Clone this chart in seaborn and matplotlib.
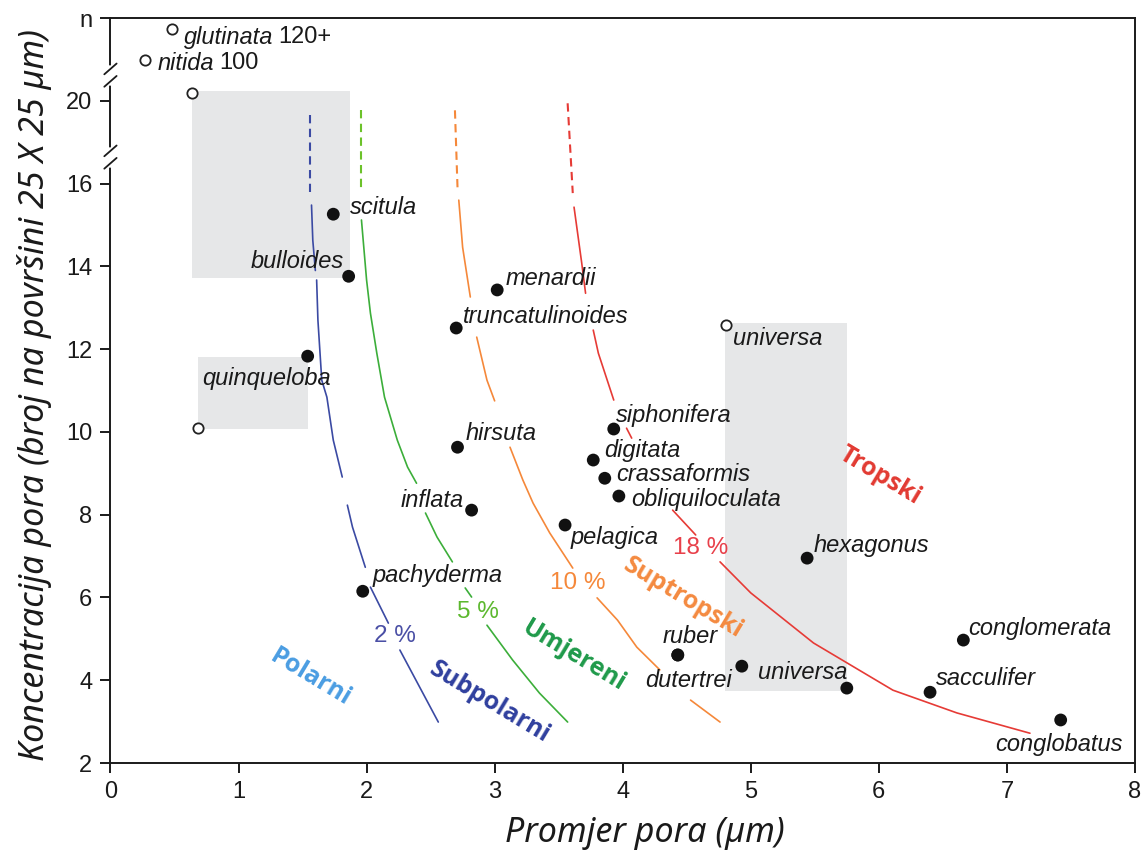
import numpy as np
import pandas as pd
import matplotlib
matplotlib.use("Agg")
import matplotlib.pyplot as plt
import seaborn as sns

sns.set_theme(style="white")
plt.rcParams['font.family'] = ['Liberation Sans', 'DejaVu Sans']

# Broken y axis: values 2-16 plotted as they are, tick "20" sits at 18, "n" at 20
y_ticks = [2, 4, 6, 8, 10, 12, 14, 16, 18, 20]
y_ticklabels = ['2', '4', '6', '8', '10', '12', '14', '16', '20', 'n']
x_ticks = [0, 1, 2, 3, 4, 5, 6, 7, 8]

# filled species points
filled_names = ["scitula", "bulloides", "quinqueloba", "menardii", "truncatulinoides",
                "hirsuta", "inflata", "pachyderma", "siphonifera", "digitata",
                "crassaformis", "obliquiloculata", "pelagica", "hexagonus", "ruber",
                "dutertrei", "universa", "", "conglomerata", "sacculifer", "conglobatus"]
filled_x = [1.74, 1.86, 1.54, 3.02, 2.70, 2.71, 2.82, 1.97, 3.93, 3.77,
            3.86, 3.97, 3.55, 5.44, 4.43, 4.43, 4.93, 5.75, 6.66, 6.40, 7.42]
filled_y = [15.26, 13.76, 11.83, 13.43, 12.51, 9.63, 8.11, 6.15, 10.07, 9.32,
            8.88, 8.45, 7.75, 6.95, 4.61, 4.61, 4.34, 3.81, 4.97, 3.71, 3.04]

# open (range end) points
open_names = ["glutinata", "nitida", "", "", "universa"]
open_suffix = ["120+", "100", "", "", ""]
open_x = [0.48, 0.27, 0.64, 0.68, 4.81]
open_y = [19.73, 18.98, 18.20, 10.09, 12.58]

# grey range boxes
box_x0 = [0.64, 0.68, 4.80]
box_x1 = [1.87, 1.54, 5.75]
box_y0 = [13.71, 10.07, 3.74]
box_y1 = [18.23, 11.81, 12.63]

# isolines (nan = gap)
nan = np.nan
blue_dash_x = [1.56, 1.56]
blue_dash_y = [17.65, 15.79]
blue_x = [1.57, 1.58, 1.60, nan, 1.61, 1.62, 1.65, 1.69, 1.74, 1.81, nan,
          1.85, 1.89, 1.99, nan, 2.03, 2.17, nan, 2.26, 2.56]
blue_y = [15.48, 14.63, 13.90, nan, 13.67, 12.70, 11.25, 10.84, 9.80, 8.91, nan,
          8.23, 7.70, 6.73, nan, 6.25, 5.38, nan, 4.73, 2.99]

green_dash_x = [1.96, 1.96]
green_dash_y = [17.77, 15.79]
green_x = [1.96, 2.00, 2.03, 2.08, 2.14, 2.24, 2.32, 2.39, nan, 2.46, 2.55, 2.67, nan,
           2.77, 2.82, nan, 2.94, 3.14, 3.35, 3.57]
green_y = [15.12, 13.67, 12.87, 11.90, 10.84, 9.80, 9.15, 8.76, nan, 8.04, 7.46, 6.86, nan,
           6.23, 6.01, nan, 5.33, 4.49, 3.69, 2.99]

orange_dash_x = [2.69, 2.71]
orange_dash_y = [17.77, 15.91]
orange_x = [2.72, 2.75, 2.81, nan, 2.86, 2.94, 3.00, nan, 3.12, 3.22, 3.30, 3.43, 3.61, nan,
            3.80, 3.96, 4.11, 4.29, nan, 4.53, 4.76]
orange_y = [15.60, 14.46, 13.26, nan, 12.29, 11.25, 10.75, nan, 9.63, 8.84, 8.28, 7.56, 6.71, nan,
            5.99, 5.45, 4.80, 4.25, nan, 3.52, 2.99]

red_dash_x = [3.57, 3.61]
red_dash_y = [17.94, 15.77]
red_x = [3.62, 3.68, 3.71, nan, 3.77, 3.81, 3.93, nan, 4.03, 4.07, nan, 4.39, 4.57, nan,
         4.76, 5.00, 5.49, 6.11, 6.61, 7.18]
red_y = [15.43, 14.08, 13.35, nan, 12.46, 11.90, 10.77, nan, 10.09, 9.85, nan, 8.11, 7.51, nan,
         6.86, 6.11, 4.90, 3.76, 3.21, 2.72]

pct_labels = ["2 %", "5 %", "10 %", "18 %"]
pct_x = [2.22, 2.87, 3.65, 4.61]
pct_y = [5.07, 5.65, 6.34, 7.19]

zone_labels = ["Polarni", "Subpolarni", "Umjereni", "Suptropski", "Tropski"]
zone_x = [1.56, 2.96, 3.62, 4.47, 6.01]
zone_y = [4.07, 3.47, 4.58, 5.98, 8.95]

# ---------------- styling (not data) ----------------
label_offsets = {
    "scitula": (17, 7, 'left'), "bulloides": (-5, 15, 'right'),
    "quinqueloba": (-41, -22, 'center'), "menardii": (8, 11, 'left'),
    "truncatulinoides": (7, 12, 'left'), "hirsuta": (8, 14, 'left'),
    "inflata": (-8, 10, 'right'), "pachyderma": (10, 16, 'left'),
    "siphonifera": (2, 14, 'left'), "digitata": (11, 10, 'left'),
    "crassaformis": (11, 4, 'left'), "obliquiloculata": (12, -3, 'left'),
    "pelagica": (6, -12, 'left'), "hexagonus": (6, 13, 'left'),
    "ruber": (12, 18, 'center'), "dutertrei": (11, -26, 'center'),
    "universa": (16, -6, 'left'), "conglomerata": (5, 12, 'left'),
    "sacculifer": (6, 14, 'left'), "conglobatus": (-2, -25, 'center'),
}
open_offsets = {"glutinata": (12, -8), "nitida": (13, -3), "universa": (7, -13)}

c_blue = '#3b4aa3'
c_green = '#3cae3a'
c_green_d = '#6cc22a'
c_orange = '#f5883a'
c_red = '#e63b36'
pct_colors = ['#4a4fa5', '#5cb82e', '#f5883a', '#e8404a']
zone_colors = ['#4a9de2', '#2f3f9e', '#1f9a4a', '#f48a40', '#e23a32']
LABEL_FS = 17

fig = plt.figure(figsize=(11.47, 8.58), dpi=100)
ax = fig.add_axes([0.0963, 0.1107, 0.8932, 0.8683])

# boxes
for x0, x1, y0, y1 in zip(box_x0, box_x1, box_y0, box_y1):
    ax.add_patch(plt.Rectangle((x0, y0), x1 - x0, y1 - y0, facecolor='#e6e7e8',
                               edgecolor='none', zorder=0))


def curve_df(xs, ys):
    rows, seg = [], 0
    for x, y in zip(xs, ys):
        if np.isnan(x):
            seg += 1
            continue
        rows.append((x, y, seg))
    return pd.DataFrame(rows, columns=['x', 'y', 'seg'])


curves = [(blue_x, blue_y, blue_dash_x, blue_dash_y, c_blue, c_blue),
          (green_x, green_y, green_dash_x, green_dash_y, c_green, c_green_d),
          (orange_x, orange_y, orange_dash_x, orange_dash_y, c_orange, c_orange),
          (red_x, red_y, red_dash_x, red_dash_y, c_red, c_red)]
for xs, ys, dx, dy, c, cd in curves:
    sns.lineplot(data=curve_df(xs, ys), x='x', y='y', units='seg', estimator=None,
                 sort=False, color=c, lw=1.2, ax=ax, zorder=2)
    sns.lineplot(x=dx, y=dy, sort=False, estimator=None, color=cd, lw=1.5,
                 linestyle=(0, (4, 2.6)), ax=ax, zorder=2)

# points
sns.scatterplot(x=filled_x, y=filled_y, color='#111111', s=85, edgecolor='none',
                ax=ax, zorder=4)
sns.scatterplot(x=open_x, y=open_y, facecolor='white', edgecolor='#222222', s=55,
                linewidth=1.3, ax=ax, zorder=4)

lab_kw = dict(fontsize=LABEL_FS, style='italic', color='#1a1a1a', va='center',
              textcoords='offset pixels', zorder=5)
for name, x, y in zip(filled_names, filled_x, filled_y):
    if not name:
        continue
    dxp, dyp, ha = label_offsets[name]
    ax.annotate(name, (x, y), xytext=(dxp, dyp), ha=ha, **lab_kw)
for name, suf, x, y in zip(open_names, open_suffix, open_x, open_y):
    if not name:
        continue
    dxp, dyp = open_offsets[name]
    t = ax.annotate(name, (x, y), xytext=(dxp, dyp), ha='left', **lab_kw)
    if suf:
        ax.annotate(suf, xy=(1, 0.5), xycoords=t, xytext=(5, 0),
                    textcoords='offset pixels', ha='left', va='center',
                    fontsize=LABEL_FS, color='#1a1a1a')

for lab, x, y, c in zip(pct_labels, pct_x, pct_y, pct_colors):
    ax.text(x, y, lab, color=c, fontsize=17.5, ha='center', va='center', zorder=5)

for lab, x, y, c in zip(zone_labels, zone_x, zone_y, zone_colors):
    ax.text(x, y, lab, color=c, fontsize=18, fontweight='bold', family='Open Sans',
            rotation=-31, rotation_mode='anchor', ha='center', va='center', zorder=5)

# axes
ax.set_xlim(0, 8)
ax.set_ylim(2, 20)
ax.set_xticks(x_ticks)
ax.set_xticklabels([str(v) for v in x_ticks])
ax.set_yticks(y_ticks)
ax.set_yticklabels(y_ticklabels)
ax.tick_params(axis='both', which='both', direction='out', length=7, width=1.4,
               labelsize=17, color='#1a1a1a', labelcolor='#1a1a1a', pad=6,
               left=True, bottom=True)
for sp in ax.spines.values():
    sp.set_visible(True)
    sp.set_color('#1a1a1a')
    sp.set_linewidth(1.4)
ax.grid(False)

# axis break marks
tr = ax.get_yaxis_transform()
for yb in [16.64, 18.62]:
    ax.plot([0, 0], [yb - 0.18, yb + 0.18], transform=tr, color='white', lw=4,
            clip_on=False, zorder=6)
    ax.plot([-0.006, 0.006], [yb - 0.28, yb - 0.02], transform=tr, color='#1a1a1a',
            lw=1.3, clip_on=False, zorder=7)
    ax.plot([-0.006, 0.006], [yb + 0.02, yb + 0.28], transform=tr, color='#1a1a1a',
            lw=1.3, clip_on=False, zorder=7)

ax.set_xlabel("Promjer pora (µm)", fontsize=24.5, style='italic', family='Noto Sans',
              color='#1a1a1a')
ax.set_ylabel("Koncentracija pora (broj na površini 25 X 25 µm)", fontsize=24.5,
              style='italic', family='Noto Sans', color='#1a1a1a')
ax.xaxis.set_label_coords(0.522, -0.094)
ax.xaxis.label.set_va('center')
ax.yaxis.set_label_coords(-0.0737, 0.494)
ax.yaxis.label.set_va('center')

fig.savefig("out.png", dpi=100)
